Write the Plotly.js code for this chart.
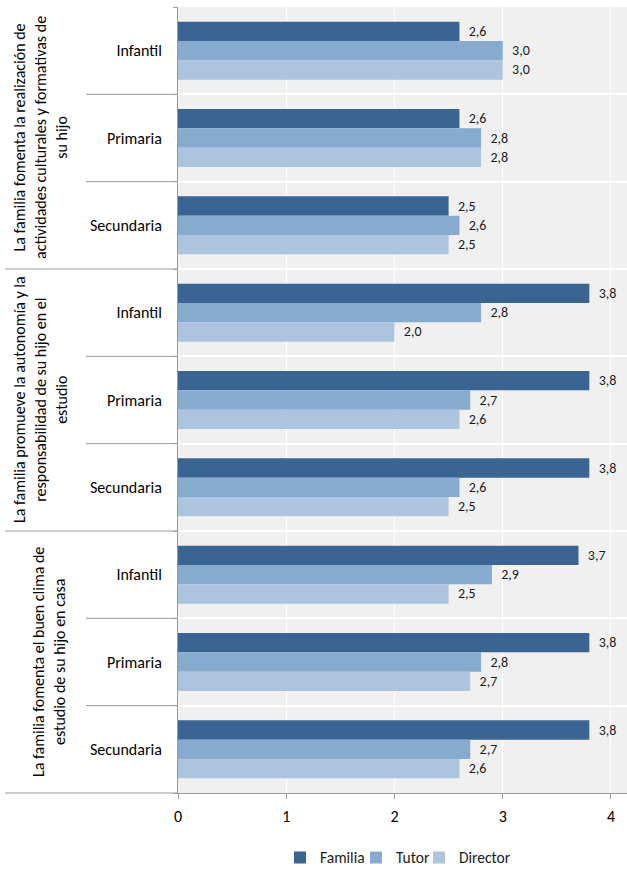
<!DOCTYPE html>
<html>
<head>
<meta charset="utf-8">
<script src="https://cdn.plot.ly/plotly-3.0.1.min.js"></script>
<style>html,body{margin:0;padding:0;background:#fff;}</style>
</head>
<body>
<div id="chart" style="width:627px;height:870px;"></div>
<script>
// Data
const groups = [
  "La familia fomenta la realización de<br>actividades culturales y formativas de<br>su hijo",
  "La familia promueve la autonomía y la<br>responsabilidad de su hijo en el<br>estudio",
  "La familia fomenta el buen clima de<br>estudio de su hijo en casa"
];
const levels = ["Infantil", "Primaria", "Secundaria"];
const categoryLabels = ["Infantil","Primaria","Secundaria","Infantil","Primaria","Secundaria","Infantil","Primaria","Secundaria"];
const seriesNames = ["Familia", "Tutor", "Director"];
const familia  = [2.6, 2.6, 2.5, 3.8, 3.8, 3.8, 3.7, 3.8, 3.8];
const tutor    = [3.0, 2.8, 2.6, 2.8, 2.7, 2.6, 2.9, 2.8, 2.7];
const director = [3.0, 2.8, 2.5, 2.0, 2.6, 2.5, 2.5, 2.7, 2.6];
const xTicks = [0, 1, 2, 3, 4];

const colors = ["#3a6593", "#87aacf", "#adc4de"];
const legendWidths = [31, 18, 55];
const FONT = "Carlito, Lato, 'Open Sans', sans-serif";
const pos = categoryLabels.map((_, i) => i);

const traces = [familia, tutor, director].map((vals, k) => ({
  type: "bar",
  orientation: "h",
  name: seriesNames[k],
  legendwidth: legendWidths[k],
  x: vals,
  y: pos,
  marker: {color: colors[k], line: {width: 0}},
  texttemplate: "\u00a0\u00a0%{x:.1f}",
  textposition: "outside",
  textfont: {family: FONT, size: 14, color: "#1a1a1a"},
  cliponaxis: false,
  hoverinfo: "skip"
}));

const paperX = px => (px - 178) / 449;
const lineColor = "#9a9a9a";
const shapes = [];
// sub-category separators in left area
[0.5, 1.5, 3.5, 4.5, 6.5, 7.5].forEach(v => shapes.push({
  type: "line", xref: "paper", yref: "y", x0: paperX(86), x1: 0, y0: v, y1: v,
  line: {color: lineColor, width: 1}
}));
// group separators
[2.5, 5.5].forEach(v => shapes.push({
  type: "line", xref: "paper", yref: "y", x0: paperX(5), x1: 0, y0: v, y1: v,
  line: {color: lineColor, width: 1}
}));
// bottom line extension
shapes.push({type: "line", xref: "paper", yref: "paper", x0: paperX(5), x1: 0, y0: 0, y1: 0,
  line: {color: lineColor, width: 1}});

const groupCenters = [1, 4, 7];
const groupX = [40, 40, 49];
const annotations = groups.map((g, i) => ({
  xref: "paper", yref: "y", x: paperX(groupX[i]), y: groupCenters[i],
  text: g, textangle: -90, showarrow: false, align: "center",
  font: {family: FONT, size: 16, color: "#000"},
  xanchor: "center", yanchor: "middle"
}));

const layout = {
  width: 627, height: 870,
  margin: {l: 178, r: 0, t: 7, b: 77},
  paper_bgcolor: "#ffffff",
  plot_bgcolor: "#f0f0f0",
  separators: ",.",
  barmode: "group",
  bargap: 0.336,
  bargroupgap: 0,
  font: {family: FONT, size: 16, color: "#000"},
  showlegend: true,
  legend: {orientation: "h", xref: "paper", x: paperX(280), xanchor: "left",
    yref: "container", y: 0.014, yanchor: "middle",
    font: {family: FONT, size: 15.5, color: "#1a1a1a"}, traceorder: "normal", itemwidth: 30},
  xaxis: {
    range: [0, 4.148], tickvals: xTicks, ticktext: xTicks.map(String), automargin: false,
    showgrid: true, gridcolor: "#ffffff", gridwidth: 1,
    zeroline: false, showline: true, linecolor: lineColor, linewidth: 1,
    ticks: "outside", ticklen: 5, tickcolor: lineColor, ticklabelstandoff: 4,
    tickfont: {family: FONT, size: 16, color: "#000"}, fixedrange: true
  },
  yaxis: {
    range: [8.5, -0.5], tickvals: pos, ticktext: categoryLabels, automargin: false,
    showgrid: false, zeroline: false, showline: true, linecolor: lineColor, linewidth: 1,
    ticks: "", ticklabelstandoff: 12,
    minor: {tick0: 0.5, dtick: 1, showgrid: true, gridcolor: "#ffffff", gridwidth: 2,
      ticks: "outside", ticklen: 4, tickcolor: lineColor},
    tickfont: {family: FONT, size: 16, color: "#000"}, fixedrange: true
  },
  shapes: shapes,
  annotations: annotations
};

Plotly.newPlot("chart", traces, layout, {displayModeBar: false, staticPlot: true});
</script>
</body>
</html>
